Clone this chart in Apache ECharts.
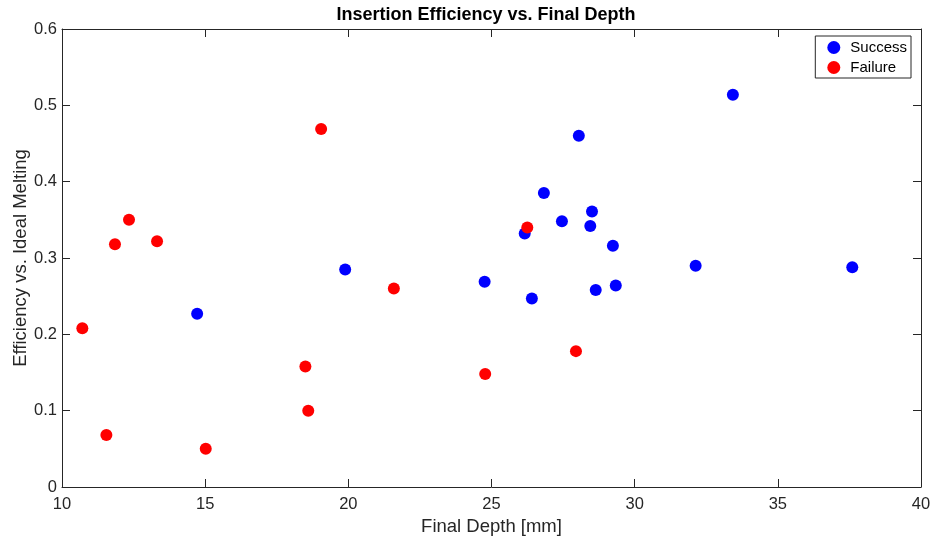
<!DOCTYPE html>
<html>
<head>
<meta charset="utf-8">
<script src="https://cdn.jsdelivr.net/npm/echarts@6/dist/echarts.min.js"></script>
<style>html,body{margin:0;padding:0;background:#fff}#c{width:933px;height:544px}</style>
</head>
<body>
<div id="c"></div>
<script>
const successDepth = [14.72, 19.89, 24.76, 26.16, 26.41, 26.83, 27.46, 28.05, 28.45, 28.51, 28.64, 29.24, 29.34, 32.13, 33.43, 37.60];
const successEff   = [0.227, 0.285, 0.269, 0.332, 0.247, 0.385, 0.348, 0.460, 0.342, 0.361, 0.258, 0.316, 0.264, 0.290, 0.514, 0.288];
const failureDepth = [10.71, 11.55, 11.85, 12.34, 13.32, 15.02, 18.50, 18.60, 19.05, 21.59, 24.78, 26.25, 27.95];
const failureEff   = [0.208, 0.068, 0.318, 0.350, 0.322, 0.050, 0.158, 0.100, 0.469, 0.260, 0.148, 0.340, 0.178];
const xTicks = [10, 15, 20, 25, 30, 35, 40];
const yTicks = [0, 0.1, 0.2, 0.3, 0.4, 0.5, 0.6];

const font = 'Liberation Sans, Arial, sans-serif';
const axisColor = '#262626';
const pair = (xs, ys) => xs.map((x, i) => [x, ys[i]]);

const chart = echarts.init(document.getElementById('c'));
const baseAxisLine = { show: true, onZero: false, lineStyle: { color: axisColor, width: 1 } };
const tick = { show: true, inside: true, length: 8, lineStyle: { color: axisColor } };
chart.setOption({
  animation: false,
  backgroundColor: '#fff',
  title: {
    text: 'Insertion Efficiency vs. Final Depth',
    left: 481, top: 1, textAlign: 'center',
    textStyle: { fontFamily: font, fontSize: 18, fontWeight: 'bold', color: '#000' }
  },
  grid: { left: 62, right: 12, top: 29, bottom: 57, containLabel: false, outerBoundsMode: 'none' },
  legend: {
    right: 22, top: 36, orient: 'vertical', align: 'left',
    backgroundColor: '#fff', borderColor: axisColor, borderWidth: 1,
    padding: [4, 4, 3, 12], itemGap: 5, itemWidth: 13, itemHeight: 13,
    textStyle: { fontFamily: font, fontSize: 15, color: '#000', padding: [0, 0, 0, 5] },
    data: [{ name: 'Success', icon: 'circle' }, { name: 'Failure', icon: 'circle' }]
  },
  xAxis: [{
    type: 'value', min: xTicks[0], max: xTicks[xTicks.length - 1], interval: 5,
    name: 'Final Depth [mm]', nameLocation: 'middle', nameGap: 30, nameMoveOverlap: false,
    nameTextStyle: { fontFamily: font, fontSize: 18.5, color: axisColor },
    axisLine: baseAxisLine, axisTick: tick,
    axisLabel: { fontFamily: font, fontSize: 16.5, color: axisColor, margin: 9 },
    splitLine: { show: false }
  }, {
    type: 'value', position: 'top', min: xTicks[0], max: xTicks[xTicks.length - 1], interval: 5,
    axisLine: baseAxisLine, axisTick: tick,
    axisLabel: { show: false }, splitLine: { show: false }
  }],
  yAxis: [{
    type: 'value', min: yTicks[0], max: yTicks[yTicks.length - 1], interval: 0.1,
    name: 'Efficiency vs. Ideal Melting', nameLocation: 'middle', nameGap: 32, nameMoveOverlap: false,
    nameTextStyle: { fontFamily: font, fontSize: 18.5, color: axisColor },
    axisLine: baseAxisLine, axisTick: tick,
    axisLabel: { fontFamily: font, fontSize: 16.5, color: axisColor, margin: 5,
      formatter: v => (Math.round(v * 10) / 10).toString() },
    splitLine: { show: false }
  }, {
    type: 'value', position: 'right', min: yTicks[0], max: yTicks[yTicks.length - 1], interval: 0.1,
    axisLine: baseAxisLine, axisTick: tick,
    axisLabel: { show: false }, splitLine: { show: false }
  }],
  series: [{
    name: 'Success', type: 'scatter', symbol: 'circle', symbolSize: 12,
    itemStyle: { color: '#0000ff', opacity: 1 },
    data: pair(successDepth, successEff)
  }, {
    name: 'Failure', type: 'scatter', symbol: 'circle', symbolSize: 12,
    itemStyle: { color: '#ff0000', opacity: 1 },
    data: pair(failureDepth, failureEff)
  }]
});
</script>
</body>
</html>
